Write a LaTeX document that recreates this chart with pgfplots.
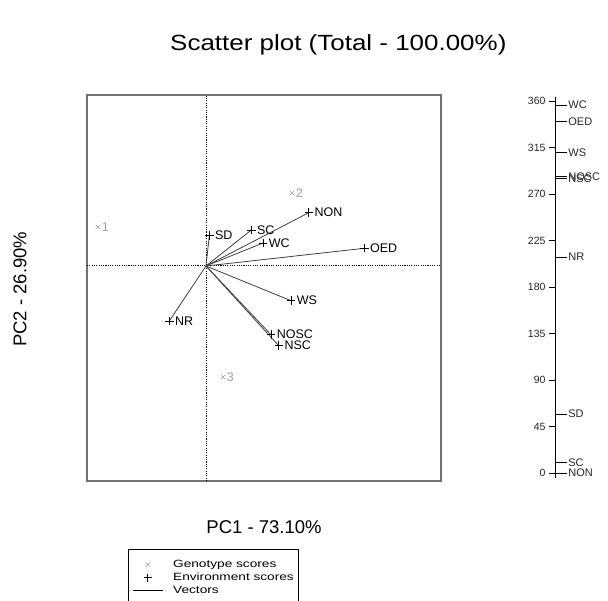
\documentclass[border=0pt]{standalone}
\usepackage{pgfplots}
\pgfplotsset{compat=1.18}
\usepackage{pgfplotstable}
\usepackage{fontspec}
\setmainfont{Liberation Sans}
\newfontfamily\widefont[FakeStretch=1.18]{Liberation Sans}
\newfontfamily\legfont[FakeStretch=1.3]{Liberation Sans}

% environment scores (vector ends)
\pgfplotstableread{
x y label
102.7 53.3 NON
45.3 36.0 SC
3.3 30.3 SD
57.0 23.0 WC
158.3 17.7 OED
85.0 -34.7 WS
-36.7 -55.0 NR
65.0 -68.7 NOSC
72.7 -79.7 NSC
}\envtab

% genotype scores
\pgfplotstableread{
x y label
-108 39 1
86 73 2
17 -111 3
}\gentab

% vector angles (right panel)
\pgfplotstableread{
angle label
0 NON
10 SC
57 SD
209 NR
285 NSC
287 NOSC
310 WS
340 OED
356 WC
}\angtab

\begin{document}
\begin{tikzpicture}[x=1pt,y=1pt]
\useasboundingbox (0,0) rectangle (608,601);
\clip (0,0) rectangle (608,601);
\begin{axis}[
  at={(87pt,120pt)}, anchor=south west,
  width=354pt, height=386pt, scale only axis,
  xmin=-119, xmax=235, ymin=-215, ymax=171,
  ticks=none, clip=false,
  axis line style={draw=black!55, line width=1.5pt},
  title={\widefont\fontsize{22}{26}\selectfont Scatter plot (Total - 100.00\%)},
  every axis title/.style={at={(axis description cs:0.71,1.13)}, anchor=center},
  xlabel={PC1 - 73.10\%}, ylabel={PC2 - 26.90\%},
  every axis x label/.style={at={(axis description cs:0.5,-0.119)}, anchor=center,
    font=\fontsize{18.5}{22}\selectfont},
  every axis y label/.style={at={(axis description cs:-0.189,0.497)}, anchor=center,
    rotate=90, font=\fontsize{18.5}{22}\selectfont},
  legend style={at={(axis description cs:0.1158,-0.176)}, anchor=north west,
    draw=black, line width=0.8pt, inner xsep=4pt, inner ysep=9pt,
    font=\legfont\fontsize{10.5}{12}\selectfont, row sep=0.5pt,
    nodes={inner sep=1pt, text height=8pt, text depth=2.5pt},
    /tikz/every odd column/.append style={column sep=9pt}},
  legend cell align=left,
]
\draw[black, line width=1pt, dash pattern=on 1.1pt off 1.2pt]
  (axis cs:0,-215) -- (axis cs:0,171);
\draw[black, line width=1pt, dash pattern=on 1.1pt off 1.2pt]
  (axis cs:-119,0) -- (axis cs:235,0);

% vectors
\addplot[forget plot, black!75, line width=0.8pt, quiver={u=\thisrow{x}, v=\thisrow{y}}]
  table[x expr=0, y expr=0] {\envtab};

% environment scores
\addplot[forget plot, only marks, mark=+, mark size=4.2pt, black, mark options={line width=0.7pt},
  nodes near coords, point meta=explicit symbolic,
  nodes near coords style={anchor=west, inner sep=1pt, xshift=4.5pt,
    font=\fontsize{12.5}{14}\selectfont, text=black}]
  table[meta=label] {\envtab};

% genotype scores
\addplot[forget plot, only marks, mark=x, mark size=3.2pt, gray!75, mark options={line width=0.6pt},
  nodes near coords, point meta=explicit symbolic,
  nodes near coords style={anchor=west, inner sep=0.5pt, xshift=3pt,
    font=\fontsize{12.5}{14}\selectfont, text=gray!75}]
  table[meta=label] {\gentab};

\addlegendimage{legend image code/.code={\draw[gray!75, line width=0.6pt] plot[mark=x, mark size=3pt] coordinates {(15pt,0pt)};}}
\addlegendentry{Genotype scores}
\addlegendimage{legend image code/.code={\draw[black, line width=0.7pt] plot[mark=+, mark size=4pt] coordinates {(15pt,0pt)};}}
\addlegendentry{Environment scores}
\addlegendimage{legend image code/.code={\draw[black, line width=0.8pt] (0pt,0pt) -- (30pt,0pt);}}
\addlegendentry{Vectors}
\end{axis}

\begin{axis}[
  at={(555pt,123pt)}, anchor=south west,
  width=12pt, height=381.3pt, scale only axis,
  xmin=0, xmax=1, ymin=-4.8, ymax=364.2,
  axis x line=none, axis y line*=left,
  ytick={0,45,...,360},
  tick align=outside, major tick length=6pt,
  tick style={black, line width=0.7pt},
  axis line style={black, line width=0.8pt, -},
  /pgf/number format/assume math mode=true,
  y tick label style={font=\fontsize{10.5}{12}\selectfont, text=black!85},
  clip=false,
]
\addplot[xcomb, black, line width=0.8pt, mark=none,
  nodes near coords, point meta=explicit symbolic,
  nodes near coords style={anchor=west, inner sep=1pt,
    font=\fontsize{11}{13}\selectfont, text=black!85}]
  table[x expr=1, y=angle, meta=label] {\angtab};
\end{axis}
\end{tikzpicture}
\end{document}
